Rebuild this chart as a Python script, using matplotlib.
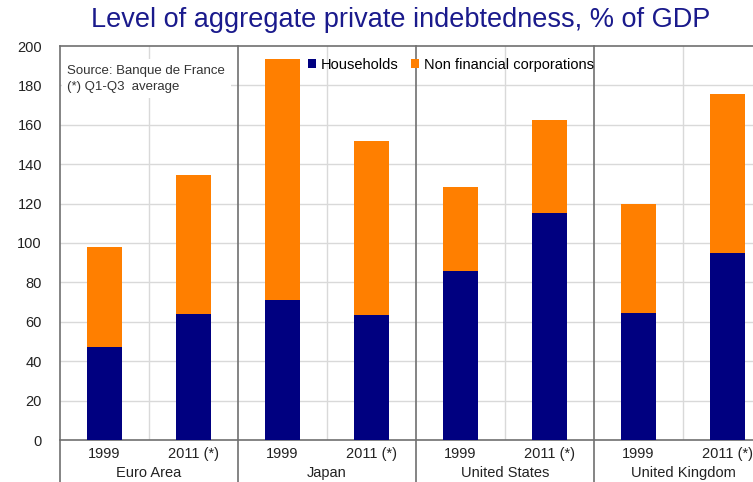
import numpy as np
import matplotlib.pyplot as plt

plt.rcParams["font.family"] = ["Liberation Sans", "DejaVu Sans"]

regions = ["Euro Area", "Japan", "United States", "United Kingdom"]
years = ["1999", "2011 (*)"]
households = [47, 64, 71, 63.5, 86, 115, 64.5, 95]
totals = [98, 134.5, 193.5, 152, 128.5, 162.5, 120, 175.5]
corporations = [t - h for t, h in zip(totals, households)]

navy = "#000080"
orange = "#FF7F00"
grey = "#d9d9d9"
dark = "#707070"

fig = plt.figure(figsize=(7.53, 4.82), dpi=100)
# axes run past the right edge, as in the cropped original
ax = fig.add_axes([60 / 753, 1 - 440 / 482, 712 / 753, 394 / 482])

x = np.arange(len(households))
ax.bar(x, households, width=0.4, color=navy, label="Households", zorder=3)
ax.bar(x, corporations, width=0.4, bottom=households, color=orange,
       label="Non financial corporations", zorder=3)

ax.set_xlim(-0.5, 7.5)
ax.set_ylim(0, 200)
ax.set_yticks(range(0, 201, 20))
ax.set_xticks(x)
ax.set_xticklabels(years * 4)
ax.tick_params(length=0, labelsize=10.5, colors="#222222")
ax.tick_params(axis="x", pad=5)
ax.tick_params(axis="y", pad=13)

for y in range(20, 200, 20):
    ax.axhline(y, color=grey, lw=1, zorder=1)
for b in [0.5, 2.5, 4.5, 6.5]:
    ax.axvline(b, color=grey, lw=1, zorder=1)
for b in [1.5, 3.5, 5.5]:
    ax.plot([b, b], [200, -22.5], color=dark, lw=1.2, clip_on=False, zorder=4)
ax.plot([-0.5, -0.5], [0, -22.5], color=dark, lw=1.2, clip_on=False, zorder=4)

for s in ["left", "top", "bottom"]:
    ax.spines[s].set_color(dark)
    ax.spines[s].set_linewidth(1.2)
ax.spines["right"].set_visible(False)

for i, r in enumerate(regions):
    ax.text(2 * i + 0.5, -17, r, ha="center", va="center", fontsize=10.5,
            color="#222222")

ax.text(-0.42, 190.5, "Source: Banque de France\n(*) Q1-Q3  average",
        ha="left", va="top", fontsize=9.5, color="#333333", linespacing=1.45,
        bbox=dict(facecolor="white", edgecolor="none", pad=4), zorder=5)

ax.legend(loc="upper left", bbox_to_anchor=(0.34, 0.985), ncol=2, frameon=False,
          fontsize=10.5, handlelength=0.55, handleheight=0.55, handletextpad=0.3,
          columnspacing=0.9, borderaxespad=0)

fig.text(0.532, 0.958, "Level of aggregate private indebtedness, % of GDP",
         ha="center", va="center", fontsize=19.5, color="#1a1a8c")

fig.savefig("out.png", dpi=100)
